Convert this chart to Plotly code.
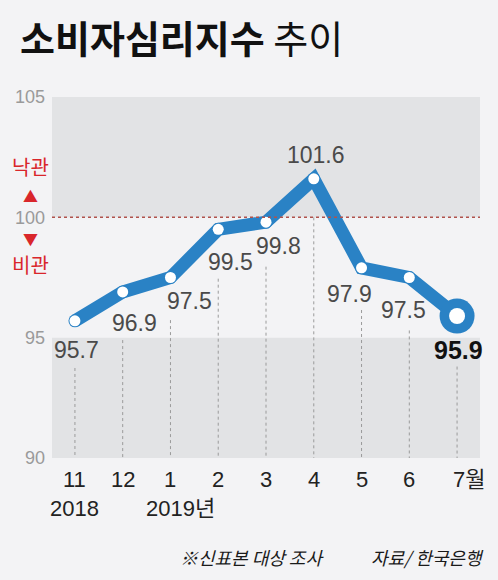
import plotly.graph_objects as go

# consumer sentiment index, Nov 2018 - Jul 2019
months = ['11', '12', '1', '2', '3', '4', '5', '6', '7']
years = ['2018', '', '2019년', '', '', '', '', '', '']
values = [95.7, 96.9, 97.5, 99.5, 99.8, 101.6, 97.9, 97.5, 95.9]
y_ticks = [90, 95, 100, 105]

# label placement (px offsets from each point) and top of each drop line
label_dx = [2, 12, 19, 12, 12, 2, -12, -6, 1]
label_dy = [-29, -31, -23, -33, -24, 24, -26, -32, -34]
drop_top = [93.74, 94.9, 95.73, 97.45, 97.95, 100.0, 96.15, 95.3, 93.8]

W, H = 498, 580
ML, MR, MT, MB = 52, 18, 97, 122
BG = '#f3f3f5'
BAND = '#e2e3e5'
BLUE = '#2a82c5'
RED = '#d9262b'
NUM_FONT = 'Liberation Sans, Noto Sans CJK KR, sans-serif'
KR_FONT = 'Noto Sans CJK KR, sans-serif'


def px_x(px):
    return (px - ML) / (W - ML - MR)


def px_y(py):
    return (H - MB - py) / (H - MT - MB)


xs = list(range(len(months)))

fig = go.Figure()

fig.add_trace(go.Scatter(
    x=xs, y=values, mode='lines+markers',
    line=dict(color=BLUE, width=13),
    marker=dict(color=BLUE, size=13, line=dict(width=0)),
    hoverinfo='skip'))
fig.add_trace(go.Scatter(
    x=xs[:-1], y=values[:-1], mode='markers',
    marker=dict(color='white', size=11, line=dict(width=0)),
    hoverinfo='skip'))
fig.add_trace(go.Scatter(
    x=xs[-1:], y=values[-1:], mode='markers',
    marker=dict(color=BLUE, size=35, line=dict(width=0)),
    hoverinfo='skip'))
fig.add_trace(go.Scatter(
    x=xs[-1:], y=values[-1:], mode='markers',
    marker=dict(color='white', size=16, line=dict(width=0)),
    hoverinfo='skip'))

# shaded bands
for y0, y1 in [(100, 105), (90, 95)]:
    fig.add_shape(type='rect', xref='paper', yref='y', x0=0, x1=1, y0=y0, y1=y1,
                  fillcolor=BAND, line=dict(width=0), layer='below')

# 100 reference line
fig.add_shape(type='line', xref='paper', yref='y', x0=0, x1=1, y0=100, y1=100,
              line=dict(color='#b0534c', width=1.5, dash='dot'))

# drop lines
for x, top in zip(xs, drop_top):
    fig.add_shape(type='line', xref='x', yref='y', x0=x, x1=x, y0=top, y1=90,
                  line=dict(color='#9a9a9a', width=1, dash='dot'), layer='below')

# value labels
for i, (x, v) in enumerate(zip(xs, values)):
    last = i == len(values) - 1
    fig.add_annotation(
        x=x, y=v, text=f'{v:.1f}', showarrow=False,
        xshift=label_dx[i], yshift=label_dy[i],
        font=dict(family=NUM_FONT, size=25 if last else 23,
                  color='#111111' if last else '#4a4a4a',
                  weight='bold' if last else 'normal'))

# month / year labels
for i, (m, yr) in enumerate(zip(months, years)):
    if m == '7':
        fig.add_annotation(x=xs[i], y=0, yref='paper', text='7월', showarrow=False,
                           xanchor='left', xshift=-6, yshift=-21, yanchor='middle',
                           font=dict(family=NUM_FONT, size=22, color='#222222'))
    else:
        fig.add_annotation(x=xs[i], y=0, yref='paper', text=m, showarrow=False,
                           yshift=-21, yanchor='middle',
                           font=dict(family=NUM_FONT, size=22, color='#222222'))
    if yr:
        fig.add_annotation(x=xs[i], y=0, yref='paper', text=yr, showarrow=False,
                           xanchor='left' if '년' in yr else 'center',
                           xshift=-26 if '년' in yr else 0, yshift=-50, yanchor='middle',
                           font=dict(family=NUM_FONT, size=22, color='#222222'))

# optimism / pessimism markers
side = [('낙관', 166, 20), ('▲', 195, 15), ('▼', 238, 15), ('비관', 264, 20)]
for txt, py, sz in side:
    fig.add_annotation(x=px_x(30), y=px_y(py), xref='paper', yref='paper', text=txt,
                       showarrow=False, xanchor='center', yanchor='middle',
                       font=dict(family=KR_FONT, size=sz, color=RED))

fig.update_layout(
    width=W, height=H,
    margin=dict(l=ML, r=MR, t=MT, b=MB),
    paper_bgcolor=BG, plot_bgcolor=BG,
    showlegend=False,
    title=dict(
        text='<b>소비자심리지수</b> 추이',
        x=20 / W, xref='container', xanchor='left', y=1 - 40 / H, yref='container',
        yanchor='middle',
        font=dict(family=KR_FONT, size=38, color='#111111')),
    xaxis=dict(range=[-0.48, len(months) - 1 + 0.48], showgrid=False, zeroline=False,
               showticklabels=False, fixedrange=True),
    yaxis=dict(range=[90, 105], tickvals=y_ticks, showgrid=False, zeroline=False,
               tickfont=dict(family='Liberation Sans Narrow, Liberation Sans, sans-serif',
                             size=18, color='#9a9a9a'),
               ticks='', ticklabelstandoff=6, fixedrange=True),
)

fig.add_annotation(x=px_x(326), y=px_y(557), xref='paper', yref='paper',
                   text='※신표본 대상 조사', showarrow=False, xanchor='right',
                   yanchor='middle',
                   font=dict(family=KR_FONT, size=18, color='#1a1a1a', style='italic'))
fig.add_annotation(x=px_x(486), y=px_y(557), xref='paper', yref='paper',
                   text='자료/ 한국은행', showarrow=False, xanchor='right',
                   yanchor='middle',
                   font=dict(family=KR_FONT, size=18, color='#1a1a1a', style='italic'))

fig.write_html('out.html', config={'displayModeBar': False},
               post_script="document.body.style.margin='0';")
